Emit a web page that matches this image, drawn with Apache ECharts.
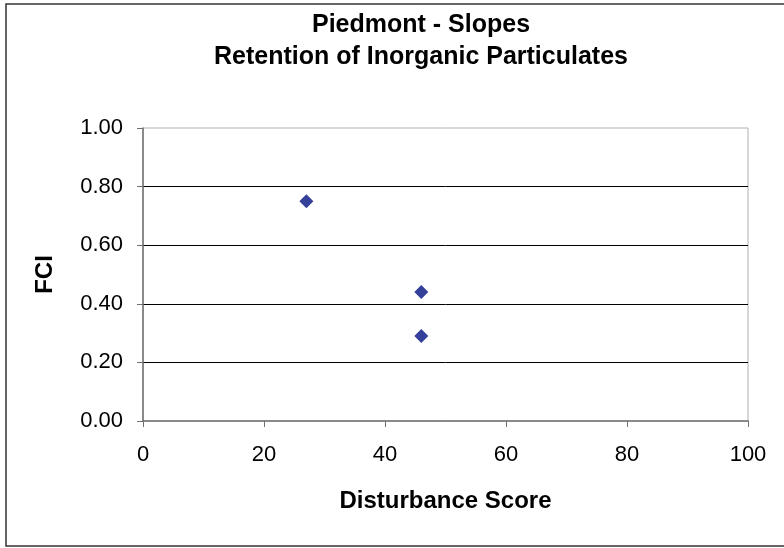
<!DOCTYPE html>
<html>
<head>
<meta charset="utf-8">
<script src="https://cdn.jsdelivr.net/npm/echarts@6/dist/echarts.min.js"></script>
<style>
  html, body { margin: 0; padding: 0; background: #fff; }
  #chart { width: 784px; height: 548px; }
</style>
</head>
<body>
<div id="chart"></div>
<script>
// disturbance score vs FCI
const scores = [27, 46, 46]
const fci = [0.75, 0.44, 0.29]
const titleLines = ['Piedmont - Slopes', 'Retention of Inorganic Particulates']

const font = '"Liberation Sans", Arial, sans-serif'
const chart = echarts.init(document.getElementById('chart'))

chart.setOption({
  animation: false,
  graphic: [
    {
      type: 'rect',
      shape: { x: 6, y: 4, width: 800, height: 542 },
      style: { fill: 'none', stroke: '#333', lineWidth: 1.5 },
      silent: true
    },
    {
      type: 'text',
      x: 421,
      y: 9,
      style: {
        text: titleLines.join('\n'),
        textAlign: 'center',
        font: 'bold 25px ' + font,
        lineHeight: 32,
        fill: '#000'
      }
    }
  ],
  grid: {
    left: 143,
    top: 128,
    right: 36,
    bottom: 127,
    show: true,
    borderColor: '#b0b0b0',
    borderWidth: 1
  },
  xAxis: {
    type: 'value',
    min: 0,
    max: 100,
    interval: 20,
    name: 'Disturbance Score',
    nameLocation: 'middle',
    nameGap: 68,
    nameTextStyle: { fontFamily: font, fontSize: 24, fontWeight: 'bold', color: '#000' },
    axisLine: { lineStyle: { color: '#707070', width: 1.5 } },
    axisTick: { show: true, inside: false, length: 6, lineStyle: { color: '#707070' } },
    axisLabel: { fontFamily: font, fontSize: 22, color: '#000', margin: 23 },
    splitLine: { show: false }
  },
  yAxis: {
    type: 'value',
    min: 0,
    max: 1,
    interval: 0.2,
    name: 'FCI',
    nameLocation: 'middle',
    nameGap: 86,
    nameTextStyle: { fontFamily: font, fontSize: 24, fontWeight: 'bold', color: '#000' },
    axisLine: { lineStyle: { color: '#707070', width: 1.5 } },
    axisTick: { show: true, inside: false, length: 6, lineStyle: { color: '#707070' } },
    axisLabel: {
      fontFamily: font,
      fontSize: 22,
      color: '#000',
      margin: 20,
      formatter: (v) => v.toFixed(2)
    },
    splitLine: {
      show: true,
      showMinLine: false,
      showMaxLine: false,
      lineStyle: { color: '#000', width: 1 }
    }
  },
  series: [
    {
      type: 'scatter',
      data: scores.map((s, i) => [s, fci[i]]),
      symbol: 'diamond',
      symbolSize: [14, 14],
      itemStyle: { color: '#03107f' }
    }
  ]
})
</script>
</body>
</html>
